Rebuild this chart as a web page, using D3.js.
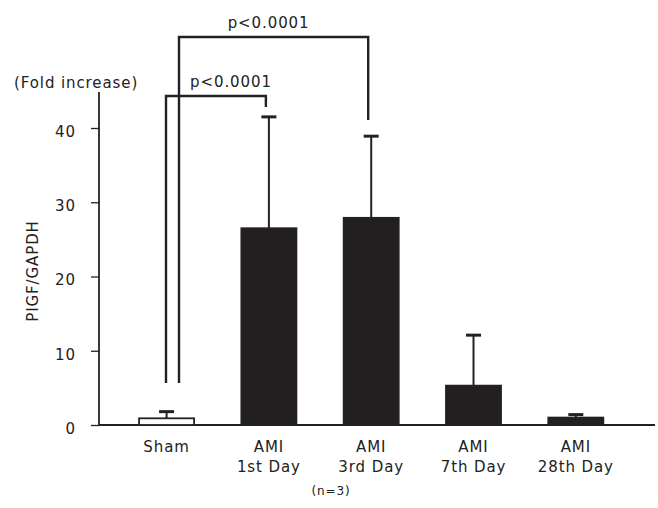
<!DOCTYPE html>
<html>
<head>
<meta charset="utf-8">
<script src="https://cdn.jsdelivr.net/npm/d3@7"></script>
<style>
  body { margin: 0; background: #fff; }
  svg text { font-family: "DejaVu Sans", Verdana, sans-serif; fill: #222; letter-spacing: 0.9px; }
</style>
</head>
<body>
<svg width="658" height="508"></svg>
<script>
// data
const groups = ["Sham", "AMI 1st Day", "AMI 3rd Day", "AMI 7th Day", "AMI 28th Day"];
const labelLines = [["Sham"], ["AMI", "1st Day"], ["AMI", "3rd Day"], ["AMI", "7th Day"], ["AMI", "28th Day"]];
const means = [0.9, 26.5, 27.9, 5.3, 1.0];
const errs = [0.9, 15.0, 11.0, 6.8, 0.4];
const yTicks = [0, 10, 20, 30, 40];
const comparisons = [
  { from: 0, to: 1, label: "p<0.0001" },
  { from: 0, to: 2, label: "p<0.0001" }
];

const svg = d3.select("svg");
const ink = "#222";

const x = d3.scaleBand().domain(groups).range([118.6, 623.8]).paddingInner(0.462).paddingOuter(0.2);
const y = d3.scaleLinear().domain([0, 40]).range([425, 128]);

// y axis
const yAxis = svg.append("g").attr("transform", "translate(99,0)")
  .call(d3.axisLeft(y).tickValues(yTicks).tickSize(8).tickPadding(15));
yAxis.select(".domain").remove();
yAxis.selectAll(".tick line").attr("stroke", ink).attr("stroke-width", 1.3);
yAxis.selectAll(".tick text").attr("font-size", 15).attr("dy", "0.55em");
svg.append("line").attr("x1", 99).attr("x2", 99).attr("y1", 92).attr("y2", y(0))
  .attr("stroke", ink).attr("stroke-width", 1.8);
svg.append("line").attr("x1", 99).attr("x2", 655).attr("y1", y(0)).attr("y2", y(0))
  .attr("stroke", ink).attr("stroke-width", 1.8);

svg.append("text").attr("x", 14).attr("y", 88).attr("font-size", 15).text("(Fold increase)");
svg.append("text").attr("transform", "translate(38,271) rotate(-90)")
  .attr("text-anchor", "middle").attr("font-size", 15).text("PIGF/GAPDH");

// error bars (upward only)
const cx = (d) => x(d) + x.bandwidth() / 2;
groups.forEach((g, i) => {
  const top = y(means[i] + errs[i]);
  svg.append("line").attr("x1", cx(g)).attr("x2", cx(g)).attr("y1", y(means[i])).attr("y2", top)
    .attr("stroke", ink).attr("stroke-width", 2);
  svg.append("line").attr("x1", cx(g) - 7.5).attr("x2", cx(g) + 7.5).attr("y1", top).attr("y2", top)
    .attr("stroke", ink).attr("stroke-width", 3);
});

// bars
svg.append("g").selectAll("rect").data(groups).enter().append("rect")
  .attr("x", (d) => x(d))
  .attr("width", x.bandwidth())
  .attr("y", (d, i) => y(means[i]))
  .attr("height", (d, i) => y(0) - y(means[i]))
  .attr("fill", (d, i) => (i === 0 ? "#fff" : "#231f20"))
  .attr("stroke", ink).attr("stroke-width", 1.8);

// category labels
labelLines.forEach((lines, i) => {
  const t = svg.append("text").attr("x", cx(groups[i])).attr("y", 452)
    .attr("text-anchor", "middle").attr("font-size", 15);
  lines.forEach((s, k) => t.append("tspan").attr("x", cx(groups[i])).attr("dy", k ? 19.5 : 0).text(s));
});

// significance brackets
const bracketTop = [96, 37];
const leftX = [166, 179];
const rightDrop = [107, 120];
const labelShift = [15, -5];
comparisons.forEach((c, k) => {
  const rx = cx(groups[c.to]) - 3;
  svg.append("path")
    .attr("d", `M${leftX[k]},383 V${bracketTop[k]} H${rx} V${rightDrop[k]}`)
    .attr("fill", "none").attr("stroke", ink).attr("stroke-width", 2.4);
  svg.append("text").attr("x", (leftX[k] + rx) / 2 + labelShift[k]).attr("y", bracketTop[k] - 9)
    .attr("text-anchor", "middle").attr("font-size", 15).text(c.label);
});

svg.append("text").attr("x", 331).attr("y", 495).attr("text-anchor", "middle")
  .attr("font-size", 12).text("(n=3)");
</script>
</body>
</html>
